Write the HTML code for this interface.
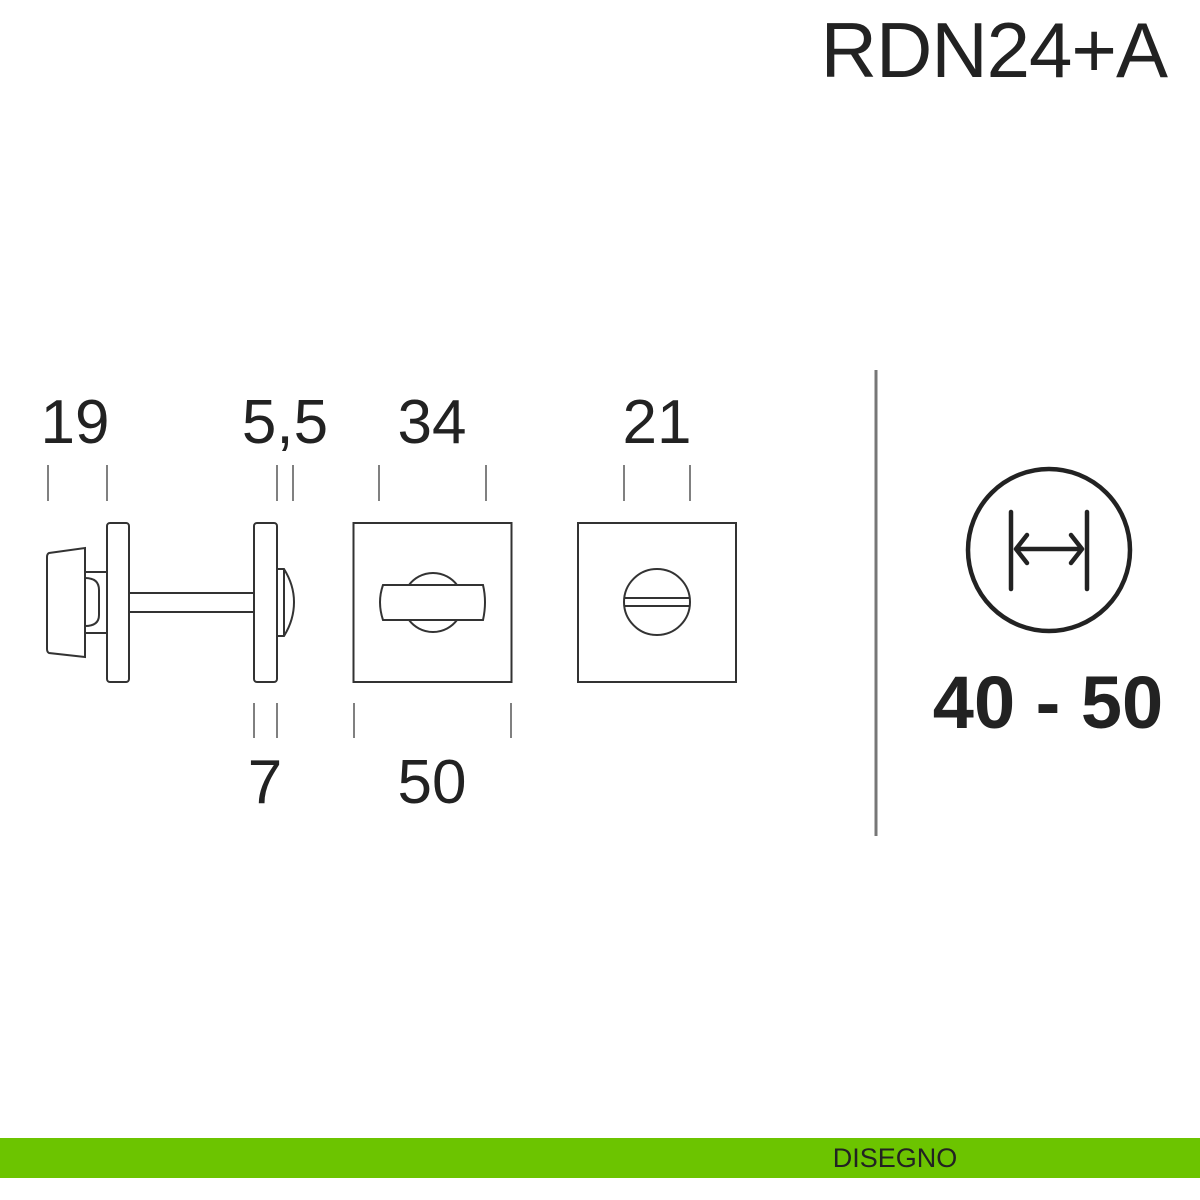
<!DOCTYPE html>
<html><head><meta charset="utf-8"><style>
html,body{margin:0;padding:0;background:#fff;}
body{width:1200px;height:1200px;position:relative;overflow:hidden;font-family:"Liberation Sans",sans-serif;}
</style></head><body>
<svg width="1200" height="1200" viewBox="0 0 1200 1200" xmlns="http://www.w3.org/2000/svg" style="position:absolute;left:0;top:0">
<g font-family="Liberation Sans, sans-serif" fill="#222">
<text x="1167" y="77" font-size="78" text-anchor="end" letter-spacing="-1">RDN24+A</text>
<text x="75" y="443" font-size="62" text-anchor="middle">19</text>
<text x="285" y="443" font-size="62" text-anchor="middle">5,5</text>
<text x="432" y="443" font-size="62" text-anchor="middle">34</text>
<text x="657" y="443" font-size="62" text-anchor="middle">21</text>
<text x="265" y="803" font-size="62" text-anchor="middle">7</text>
<text x="432" y="803" font-size="62" text-anchor="middle">50</text>
<text x="1048" y="728" font-size="74" font-weight="bold" text-anchor="middle">40 - 50</text>
</g>
<g stroke="#555" stroke-width="1.5">
<line x1="48" y1="465" x2="48" y2="501"/><line x1="107" y1="465" x2="107" y2="501"/>
<line x1="277" y1="465" x2="277" y2="501"/><line x1="293" y1="465" x2="293" y2="501"/>
<line x1="379" y1="465" x2="379" y2="501"/><line x1="486" y1="465" x2="486" y2="501"/>
<line x1="624" y1="465" x2="624" y2="501"/><line x1="690" y1="465" x2="690" y2="501"/>
<line x1="254" y1="703" x2="254" y2="738"/><line x1="277" y1="703" x2="277" y2="738"/>
<line x1="354" y1="703" x2="354" y2="738"/><line x1="511" y1="703" x2="511" y2="738"/>
</g>
<g stroke="#333" stroke-width="2" fill="none">
<path d="M49 553 L85 548 L85 657 L49 653 Q47 652 47 649 L47 557 Q47 554 49 553 Z"/>
<path d="M85 572 L107 572 L107 633 L85 633"/>
<path d="M85 578 Q99 578 99 590 L99 615 Q99 626 85 626"/>
<rect x="107" y="523" width="22" height="159" rx="3"/>
<rect x="129" y="593" width="125" height="19"/>
<rect x="254" y="523" width="23" height="159" rx="3"/>
<path d="M277 569 L284 569 Q294 585 294 602 Q294 620 284 636 L277 636"/>
<line x1="284" y1="569" x2="284" y2="636"/>
<rect x="353.5" y="523" width="158" height="159"/>
<path d="M409 585 A30 30 0 0 1 457 585"/>
<path d="M409 620 A30 30 0 0 0 457 620"/>
<path d="M383 585 L483 585 Q487 602 483 620 L383 620 Q377 602 383 585 Z"/>
<rect x="578" y="523" width="158" height="159"/>
<circle cx="657" cy="602" r="33"/>
<line x1="624" y1="598" x2="690" y2="598"/><line x1="624" y1="606" x2="690" y2="606"/>
</g>
<line x1="876" y1="370" x2="876" y2="836" stroke="#777" stroke-width="3"/>
<g stroke="#222" stroke-width="4.5" fill="none" stroke-linecap="round" stroke-linejoin="round">
<circle cx="1049" cy="550" r="81"/>
<line x1="1011" y1="512" x2="1011" y2="589"/><line x1="1087" y1="512" x2="1087" y2="589"/>
<line x1="1017" y1="549" x2="1081" y2="549"/>
<path d="M1027 535 L1016 549 L1027 563"/><path d="M1071 535 L1082 549 L1071 563"/>
</g>
<rect x="0" y="1138" width="1200" height="40" fill="#6cc400"/>
<text x="895" y="1167" font-family="Liberation Sans, sans-serif" font-size="27" fill="#222" text-anchor="middle">DISEGNO</text>
</svg>
</body></html>
